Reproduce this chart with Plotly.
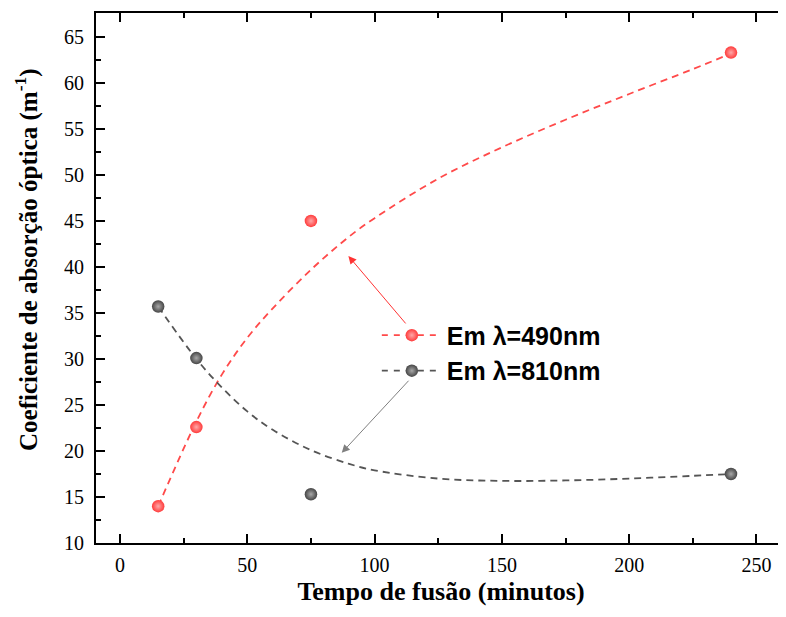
import plotly.graph_objects as go

# Measured data points
tempo = [15, 30, 75, 240]
abs_490 = [14.0, 22.6, 45.0, 63.3]
abs_810 = [35.7, 30.1, 15.3, 17.5]

# Fit curves
fit_x = [15, 30, 40, 50, 60, 75, 90, 100, 125, 150, 175, 200, 225, 240]
fit_490 = [14.0, 23.2, 28.3, 32.3, 35.5, 39.7, 43.3, 45.3, 49.6, 53.0, 56.0, 58.8, 61.5, 63.2]
fit_810 = [35.7, 30.0, 26.9, 24.3, 22.3, 20.1, 18.6, 17.9, 17.0, 16.75, 16.8, 17.0, 17.3, 17.5]

legend_names = ["Em λ=490nm", "Em λ=810nm"]
x_title = "Tempo de fusão (minutos)"
y_title = "Coeficiente de absorção óptica (m<sup>-1</sup>)"

RED = "#ff3b3b"
RED_LINE = "#ff4a4a"
DARK = "#454545"
DARK_LINE = "#555555"

fig = go.Figure()

def sphere(color, light):
    return dict(size=12.5, color=color, line=dict(width=0),
                gradient=dict(type="radial", color=light))

DASH = "7px,5px"
fig.add_trace(go.Scatter(x=fit_x, y=fit_490, mode="lines", line=dict(color=RED_LINE, width=1.8, dash=DASH, shape="spline"),
                         showlegend=False, hoverinfo="skip"))
fig.add_trace(go.Scatter(x=fit_x, y=fit_810, mode="lines", line=dict(color=DARK_LINE, width=1.8, dash=DASH, shape="spline"),
                         showlegend=False, hoverinfo="skip"))
fig.add_trace(go.Scatter(x=tempo, y=abs_490, mode="markers", marker=sphere(RED, "#ffa8a8"), showlegend=False))
fig.add_trace(go.Scatter(x=tempo, y=abs_810, mode="markers", marker=sphere(DARK, "#a8a8a8"), showlegend=False))

# legend entries
fig.add_trace(go.Scatter(x=[None], y=[None], mode="lines+markers", name=legend_names[0],
                         line=dict(color=RED_LINE, width=1.8, dash="6px,6px"), marker=sphere(RED, "#ffa8a8")))
fig.add_trace(go.Scatter(x=[None], y=[None], mode="lines+markers", name=legend_names[1],
                         line=dict(color=DARK_LINE, width=1.8, dash="6px,6px"), marker=sphere(DARK, "#a8a8a8")))

# arrows from legend to curves
fig.add_annotation(x=89.7, y=41.2, ax=112.7, ay=33.7, xref="x", yref="y", axref="x", ayref="y",
                   showarrow=True, arrowhead=2, arrowsize=1.6, arrowwidth=1, arrowcolor="#ff3333", text="")
fig.add_annotation(x=87.1, y=19.8, ax=113.9, ay=27.8, xref="x", yref="y", axref="x", ayref="y",
                   showarrow=True, arrowhead=2, arrowsize=1.6, arrowwidth=1, arrowcolor="#808080", text="")

# y-axis title as a rotated annotation
fig.add_annotation(text=y_title, xref="paper", yref="paper", x=-0.1007, y=0.535,
                   xanchor="center", yanchor="middle", textangle=-90, showarrow=False,
                   font=dict(family="Liberation Serif", size=25, color="black", weight="bold"))

axis_common = dict(
    showline=True, linecolor="black", linewidth=2,
    ticks="inside", ticklen=9, tickwidth=1.6, tickcolor="black",
    showgrid=False, zeroline=False,
    tickfont=dict(family="Liberation Serif", size=20, color="black"),
)

fig.update_xaxes(**axis_common, mirror="ticks", range=[-9.43, 261.6], tickvals=[0, 50, 100, 150, 200, 250],
                 ticklabelstandoff=3,
                 minor=dict(ticks="inside", ticklen=5, tickwidth=1.6, tickcolor="black", dtick=25, tick0=0),
                 title=dict(text=x_title, standoff=7,
                            font=dict(family="Liberation Serif", size=26, color="black", weight="bold")))
fig.update_yaxes(**axis_common, mirror=False, range=[10, 67.6], tickvals=list(range(10, 70, 5)),
                 ticklabelstandoff=6,
                 minor=dict(ticks="inside", ticklen=5, tickwidth=1.6, tickcolor="black", dtick=2.5, tick0=0))

fig.update_layout(
    width=778, height=609,
    margin=dict(l=88, r=0, t=5, b=74, autoexpand=False),
    plot_bgcolor="white", paper_bgcolor="white",
    showlegend=True,
    legend=dict(x=0.407, y=0.435, xanchor="left", yanchor="top", bgcolor="rgba(0,0,0,0)",
                font=dict(family="Liberation Sans", size=25, color="black", weight="bold"),
                itemwidth=60, traceorder="normal"),
)

fig.write_html("out.html")
